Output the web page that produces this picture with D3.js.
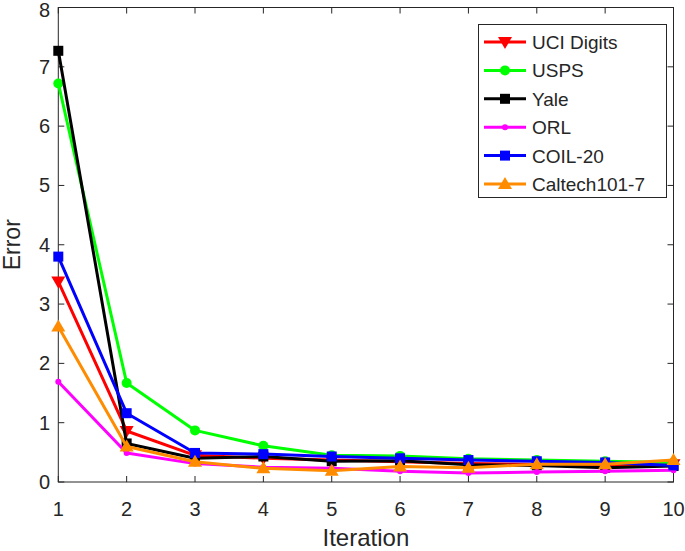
<!DOCTYPE html>
<html><head><meta charset="utf-8">
<script src="https://cdn.jsdelivr.net/npm/d3@7"></script>
<style>body{margin:0;background:#fff}svg{display:block}text{font-family:"Liberation Sans",Arial,sans-serif;fill:#262626}</style>
</head><body><svg id="c" width="685" height="551"></svg>
<script>
const iterations = [1,2,3,4,5,6,7,8,9,10];
const seriesNames = ["UCI Digits","USPS","Yale","ORL","COIL-20","Caltech101-7"];
const uciDigits = [3.38,0.86,0.45,0.40,0.37,0.34,0.31,0.30,0.27,0.30];
const usps      = [6.72,1.67,0.87,0.61,0.45,0.44,0.39,0.37,0.35,0.33];
const yale      = [7.27,0.65,0.40,0.43,0.35,0.36,0.29,0.28,0.24,0.27];
const orl       = [1.69,0.49,0.31,0.25,0.23,0.18,0.15,0.17,0.18,0.20];
const coil20    = [3.80,1.16,0.49,0.47,0.43,0.40,0.37,0.35,0.33,0.28];
const caltech   = [2.62,0.60,0.34,0.23,0.19,0.26,0.24,0.30,0.30,0.37];
const yTicks = [0,1,2,3,4,5,6,7,8];
const xLabel = "Iteration", yLabel = "Error";

const colors = ["#ff0000","#00ff00","#000000","#ff00ff","#0000ff","#ff8c00"];
const markers = ["triDown","circle","square","dot","square","triUp"];
const values = [uciDigits,usps,yale,orl,coil20,caltech];

const L=58.3,R=673.5,T=7.5,B=482;
const x = d3.scaleLinear().domain([1,10]).range([L,R]);
const y = d3.scaleLinear().domain([0,8]).range([B,T]);
const svg = d3.select("#c");
const ax = "#262626";

svg.append("rect").attr("x",L).attr("y",T).attr("width",R-L).attr("height",B-T)
  .attr("fill","none").attr("stroke",ax).attr("stroke-width",1);
const tl=6;
const gx = svg.append("g");
iterations.forEach(v=>{
  gx.append("line").attr("x1",x(v)).attr("x2",x(v)).attr("y1",B).attr("y2",B-tl).attr("stroke",ax);
  gx.append("line").attr("x1",x(v)).attr("x2",x(v)).attr("y1",T).attr("y2",T+tl).attr("stroke",ax);
  gx.append("text").attr("x",x(v)).attr("y",516).attr("text-anchor","middle").attr("font-size",20).text(v);
});
yTicks.forEach(v=>{
  gx.append("line").attr("x1",L).attr("x2",L+tl).attr("y1",y(v)).attr("y2",y(v)).attr("stroke",ax);
  gx.append("line").attr("x1",R).attr("x2",R-tl).attr("y1",y(v)).attr("y2",y(v)).attr("stroke",ax);
  gx.append("text").attr("x",50).attr("y",Math.max(y(v)+7,17)).attr("text-anchor","end").attr("font-size",20).text(v);
});
svg.append("text").attr("x",(L+R)/2).attr("y",546).attr("text-anchor","middle").attr("font-size",24).text(xLabel);
svg.append("text").attr("transform",`translate(20,${(T+B)/2}) rotate(-90)`).attr("text-anchor","middle").attr("font-size",23).text(yLabel);

function drawMarker(g,type,cx,cy,col){
  if(type==="circle") g.append("circle").attr("cx",cx).attr("cy",cy).attr("r",5).attr("fill",col);
  else if(type==="dot") g.append("circle").attr("cx",cx).attr("cy",cy).attr("r",3).attr("fill",col);
  else if(type==="square") g.append("rect").attr("x",cx-5).attr("y",cy-5).attr("width",10).attr("height",10).attr("fill",col);
  else if(type==="triUp") g.append("path").attr("d",`M${cx},${cy-7}L${cx+7},${cy+5}L${cx-7},${cy+5}Z`).attr("fill",col);
  else if(type==="triDown") g.append("path").attr("d",`M${cx},${cy+7}L${cx+7},${cy-5}L${cx-7},${cy-5}Z`).attr("fill",col);
}

const line = d3.line().x((d,i)=>x(iterations[i])).y(d=>y(d));
values.forEach((vals,k)=>{
  const g = svg.append("g");
  g.append("path").attr("d",line(vals)).attr("fill","none").attr("stroke",colors[k]).attr("stroke-width",3).attr("stroke-linejoin","round");
  vals.forEach((v,i)=>drawMarker(g,markers[k],x(iterations[i]),y(v),colors[k]));
});

const lg = svg.append("g");
lg.append("rect").attr("x",478.5).attr("y",24.5).attr("width",188).attr("height",173).attr("fill","#fff").attr("stroke",ax);
seriesNames.forEach((n,k)=>{
  const ly = 42 + k*28.4;
  lg.append("line").attr("x1",484).attr("x2",526).attr("y1",ly).attr("y2",ly).attr("stroke",colors[k]).attr("stroke-width",3);
  drawMarker(lg,markers[k],505,ly,colors[k]);
  lg.append("text").attr("x",532).attr("y",ly+7).attr("font-size",19).text(n);
});
</script></body></html>
